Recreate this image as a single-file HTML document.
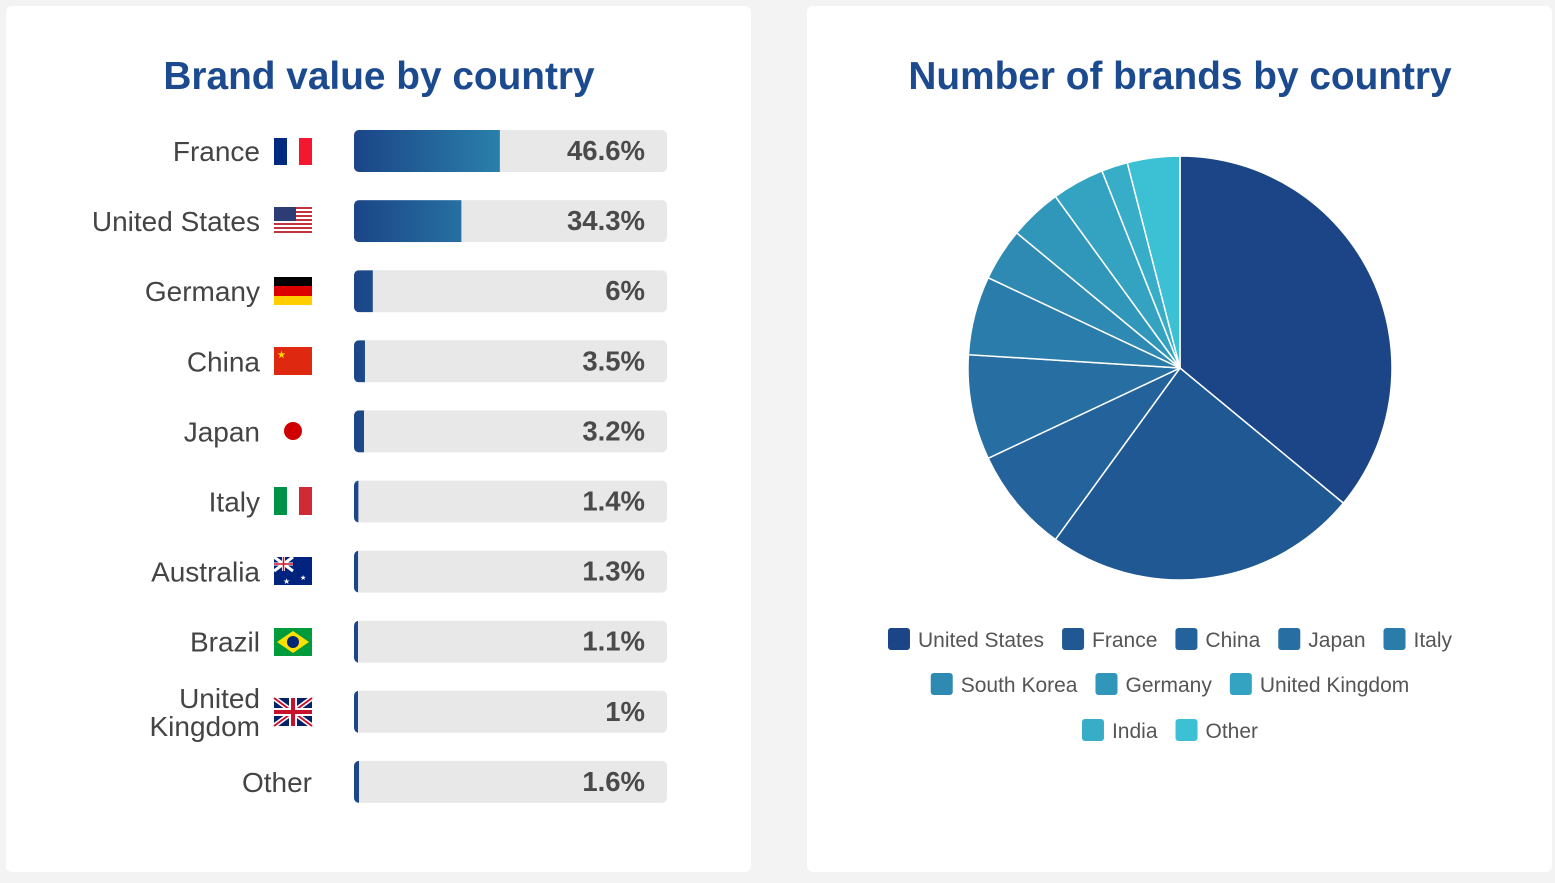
<!DOCTYPE html>
<html><head><meta charset="utf-8"><style>
body{margin:0;width:1555px;height:883px;background:#f3f3f3;font-family:"Liberation Sans",sans-serif;overflow:hidden}
svg{position:absolute;left:0;top:0}
</style></head><body>
<svg width="1555" height="883">
<defs>
<linearGradient id="bg" gradientUnits="userSpaceOnUse" x1="354" x2="667" y1="0" y2="0">
<stop offset="0" stop-color="#1b4587"/><stop offset="0.47" stop-color="#2a80ab"/><stop offset="1" stop-color="#3cc0d4"/></linearGradient>
</defs>
<rect x="6" y="6" width="745" height="866" rx="6" fill="#fff"/>
<rect x="807" y="6" width="745" height="866" rx="6" fill="#fff"/>
<text x="379" y="89" text-anchor="middle" font-size="38.8" font-weight="bold" fill="#1c4a8e">Brand value by country</text>
<text x="1180" y="89" text-anchor="middle" font-size="38.8" font-weight="bold" fill="#1c4a8e">Number of brands by country</text>
<g id="bars"></g>
<g id="flags">
 <g><rect x="274" y="138" width="13" height="27" fill="#002a7f"/><rect x="287" y="138" width="12" height="27" fill="#fff"/><rect x="299" y="138" width="13" height="27" fill="#f31830"/></g>
 <g><rect x="274" y="207" width="38" height="28" fill="#fff"/>
  <rect x="274" y="207" width="38" height="2" fill="#c3343f"/><rect x="274" y="211" width="38" height="2" fill="#c3343f"/><rect x="274" y="215" width="38" height="2" fill="#c3343f"/><rect x="274" y="219" width="38" height="2" fill="#c3343f"/><rect x="274" y="223" width="38" height="2" fill="#c3343f"/><rect x="274" y="227" width="38" height="2" fill="#c3343f"/><rect x="274" y="231" width="38" height="2" fill="#c3343f"/><rect x="274" y="207" width="22" height="14" fill="#2b3d74"/></g>
 <g><rect x="274" y="277" width="38" height="9" fill="#000"/><rect x="274" y="286" width="38" height="10" fill="#dd0000"/><rect x="274" y="296" width="38" height="9" fill="#ffce00"/></g>
 <g><rect x="274" y="347" width="38" height="28" fill="#de2910"/><text x="277" y="358" font-size="10" fill="#ffde00">★</text></g>
 <circle cx="293" cy="431" r="9" fill="#d00000"/>
 <g><rect x="274" y="487" width="13" height="28" fill="#009246"/><rect x="287" y="487" width="12" height="28" fill="#fff"/><rect x="299" y="487" width="13" height="28" fill="#ce2b37"/></g>
 <g><rect x="274" y="557" width="38" height="28" fill="#00247d"/><path d="M274 557L293 571M293 557L274 571M283.5 557V571M274 564H293" stroke="#fff" stroke-width="3"/><path d="M283.5 557V571M274 564H293" stroke="#cf142b" stroke-width="1.5"/><text x="283" y="584" font-size="8" fill="#fff">★</text><text x="300" y="580" font-size="7" fill="#fff">★</text></g>
 <g><rect x="274" y="628" width="38" height="28" fill="#009c3b"/><polygon points="293,631 309,642 293,653 277,642" fill="#ffdf00"/><circle cx="293" cy="642" r="6" fill="#002776"/></g>
 <g><rect x="274" y="698" width="38" height="28" fill="#012169"/><path d="M274 698L312 726M312 698L274 726" stroke="#fff" stroke-width="5"/><path d="M274 698L312 726M312 698L274 726" stroke="#c8102e" stroke-width="2"/><path d="M293 698V726M274 712H312" stroke="#fff" stroke-width="8"/><path d="M293 698V726M274 712H312" stroke="#c8102e" stroke-width="4"/></g>
</g>
<g id="pie"></g>
<g id="legend"></g>
</svg>
<script>
const NS="http://www.w3.org/2000/svg";
const barCountries=["France","United States","Germany","China","Japan","Italy","Australia","Brazil","United Kingdom","Other"];
const barValues=[46.6,34.3,6,3.5,3.2,1.4,1.3,1.1,1,1.6];
const barLabels=["46.6%","34.3%","6%","3.5%","3.2%","1.4%","1.3%","1.1%","1%","1.6%"];
const pieCategories=["United States","France","China","Japan","Italy","South Korea","Germany","United Kingdom","India","Other"];
const pieValues=[36,24,8,8,6,4,4,4,2,4];
const pieColors=["#1b4587","#1f5893","#23629b","#276ea3","#2a7cab","#2e8ab3","#3197ba","#34a3c2","#37adc8","#3cc0d4"];
function mk(tag,attrs,parent){const e=document.createElementNS(NS,tag);for(const k in attrs)e.setAttribute(k,attrs[k]);parent.appendChild(e);return e;}
const bars=document.getElementById('bars');
const trackX=354,trackW=313,rowY0=151,rowStep=70.1;
const xScale=v=>v/100*trackW;
barCountries.forEach((c,i)=>{
  const cy=rowY0+i*rowStep;
  const g=mk('g',{},bars);
  
  
  const t=mk('rect',{x:trackX,y:cy-21,width:trackW,height:42,rx:5,fill:'#e8e8e8'},g);
  
  
  const w=Math.max(xScale(barValues[i]),4);
  const clipId='c'+i;
  const cp=mk('clipPath',{id:clipId},g);
  mk('rect',{x:trackX,y:cy-21,width:trackW,height:42,rx:5},cp);
  const f=mk('rect',{x:trackX,y:cy-21,width:w,height:42,fill:'url(#bg)','clip-path':'url(#'+clipId+')'},g);
  
  
  const v=mk('text',{x:645,y:cy+9,'text-anchor':'end','font-size':27.5,'font-weight':'bold',fill:'#4a4a4a'},g);
  v.textContent=barLabels[i];
  
  
  const endX=(c==='Other')?312:260;
  const lab=mk('text',{x:endX,y:cy+10,'text-anchor':'end','font-size':28,fill:'#444'},g);
  
  
  if(c==='United Kingdom'){
    mk('tspan',{x:endX,y:cy-4},lab).textContent='United';
    mk('tspan',{x:endX,y:cy+24},lab).textContent='Kingdom';
  } else lab.textContent=c;
});
const pie=document.getElementById('pie');
const cx=1180,cyP=368,r=212;
const total=pieValues.reduce((a,b)=>a+b,0);
let acc=0;
const pt=a=>[cx+r*Math.sin(a),cyP-r*Math.cos(a)];
pieValues.forEach((v,i)=>{
  const a0=acc/total*2*Math.PI;acc+=v;const a1=acc/total*2*Math.PI;
  const p0=pt(a0),p1=pt(a1);const large=(a1-a0)>Math.PI?1:0;
  const p=mk('path',{d:`M${cx},${cyP}L${p0[0]},${p0[1]}A${r},${r} 0 ${large} 1 ${p1[0]},${p1[1]}Z`,fill:pieColors[i],stroke:'#fff','stroke-width':1.5},pie);
  
  
});
const legend=document.getElementById('legend');
const rows=[[0,1,2,3,4],[5,6,7],[8,9]];
const rowYs=[639,684,730];
const cvs=document.createElement('canvas').getContext('2d');cvs.font='21px "Liberation Sans"';
rows.forEach((row,ri)=>{
  const widths=row.map(i=>23+7+cvs.measureText(pieCategories[i]).width);
  const gap=18;const tot=widths.reduce((a,b)=>a+b,0)+gap*(row.length-1);
  let x=1170-tot/2;
  row.forEach((i,k)=>{
    const g=mk('g',{},legend);
    
    
    mk('rect',{x:x,y:rowYs[ri]-11,width:22,height:22,rx:3,fill:pieColors[i]},g);
    const t=mk('text',{x:x+30,y:rowYs[ri]+8,'font-size':21,fill:'#555'},g);
    t.textContent=pieCategories[i];
    x+=widths[k]+gap;
  });
});
</script>
</body></html>
